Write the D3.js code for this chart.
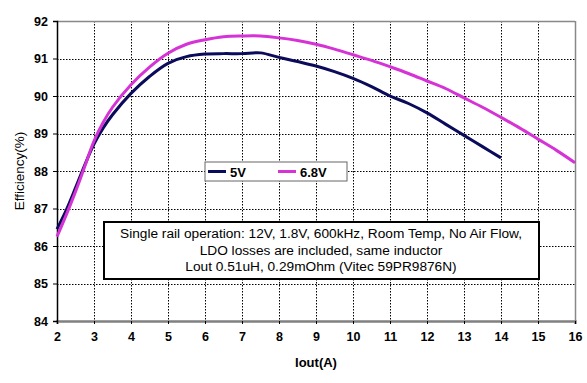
<!DOCTYPE html>
<html lang="en">
<head>
  <meta charset="UTF-8" />
  <title>Efficiency vs Iout</title>
  <script src="https://d3js.org/d3.v7.min.js"></script>
  <style>
    body {
      margin: 0;
      background: #fff;
      font-family: Arial, "Liberation Sans", sans-serif;
    }
    .tick-label {
      font-size: 12.5px;
      font-weight: bold;
      fill: #000;
    }
    .grid {
      stroke: #000;
      stroke-width: 1px;
      stroke-dasharray: 1.5 1.5;
    }
  </style>
</head>
<body>
  <svg width="587" height="383"></svg>
  <script>
    const iout5 = [2, 2.25, 2.5, 2.75, 3, 3.25, 3.5, 4, 4.5, 5, 5.5, 6, 6.5, 7, 7.5, 8, 8.5, 9, 9.5, 10, 10.5, 11, 11.5, 12, 12.5, 13, 13.5, 14];
    const eff5 = [86.45, 86.96, 87.55, 88.16, 88.72, 89.15, 89.5, 90.07, 90.52, 90.87, 91.05, 91.12, 91.13, 91.13, 91.15, 91.03, 90.92, 90.8, 90.65, 90.47, 90.25, 90.0, 89.8, 89.55, 89.25, 88.95, 88.65, 88.35];
    const iout68 = [2, 2.25, 2.5, 2.75, 3, 3.25, 3.5, 4, 4.5, 5, 5.5, 6, 6.5, 7, 7.5, 8, 8.5, 9, 9.5, 10, 10.5, 11, 11.5, 12, 12.5, 13, 13.5, 14, 14.5, 15, 15.5, 16];
    const eff68 = [86.25, 86.83, 87.45, 88.12, 88.8, 89.3, 89.7, 90.3, 90.77, 91.14, 91.38, 91.5, 91.58, 91.6, 91.6, 91.55, 91.48, 91.38, 91.25, 91.1, 90.95, 90.78, 90.6, 90.4, 90.2, 89.95, 89.7, 89.43, 89.15, 88.85, 88.55, 88.22];
    const xTicks = [2, 3, 4, 5, 6, 7, 8, 9, 10, 11, 12, 13, 14, 15, 16];
    const yTicks = [84, 85, 86, 87, 88, 89, 90, 91, 92];
    const seriesNames = ["5V", "6.8V"];
    const seriesColors = ["#0b0b5c", "#d633d6"];
    const noteLines = [
      "Single rail operation: 12V, 1.8V, 600kHz, Room Temp, No Air Flow,",
      "LDO losses are included, same inductor",
      "Lout 0.51uH, 0.29mOhm (Vitec 59PR9876N)"
    ];

    const svg = d3.select("svg");
    const plotL = 57, plotR = 575, plotT = 21, plotB = 321;

    const x = d3.scaleLinear().domain([2, 16]).range([plotL, plotR]);
    const y = d3.scaleLinear().domain([84, 92]).range([plotB, plotT]);

    // grid
    svg.append("g").selectAll("line")
      .data(xTicks.slice(1, -1))
      .join("line")
      .attr("class", "grid")
      .attr("x1", d => Math.round(x(d)) + 0.5).attr("x2", d => Math.round(x(d)) + 0.5)
      .attr("y1", plotT).attr("y2", plotB);

    svg.append("g").selectAll("line")
      .data(yTicks.slice(1, -1))
      .join("line")
      .attr("class", "grid")
      .attr("x1", plotL).attr("x2", plotR)
      .attr("y1", d => Math.round(y(d)) + 0.5).attr("y2", d => Math.round(y(d)) + 0.5);

    // frame
    svg.append("line").attr("x1", plotL).attr("x2", plotR).attr("y1", plotT + 0.5).attr("y2", plotT + 0.5)
      .attr("stroke", "#888").attr("stroke-width", 1.5);
    svg.append("line").attr("x1", plotR + 0.5).attr("x2", plotR + 0.5).attr("y1", plotT).attr("y2", plotB)
      .attr("stroke", "#888").attr("stroke-width", 1.5);

    // axes
    const xAxis = svg.append("g")
      .attr("transform", `translate(0,${plotB})`)
      .call(d3.axisBottom(x).tickValues(xTicks).tickSize(3).tickFormat(d3.format("d")));
    xAxis.select(".domain").attr("stroke", "#808080").attr("stroke-width", 2.5);
    xAxis.selectAll(".tick line").attr("stroke", "#000");
    xAxis.selectAll("text").attr("class", "tick-label").attr("dy", "1.15em")
      .style("font-family", "Arial, 'Liberation Sans', sans-serif");

    const yAxis = svg.append("g")
      .attr("transform", `translate(${plotL},0)`)
      .call(d3.axisLeft(y).tickValues(yTicks).tickSize(4).tickFormat(d3.format("d")));
    yAxis.select(".domain").attr("stroke", "#000").attr("stroke-width", 1.5);
    yAxis.selectAll("text").attr("class", "tick-label").attr("x", -9)
      .style("font-family", "Arial, 'Liberation Sans', sans-serif");

    // axis titles
    svg.append("text")
      .attr("x", 316).attr("y", 367)
      .attr("text-anchor", "middle")
      .style("font-size", "13px").style("font-weight", "bold")
      .text("Iout(A)");

    svg.append("text")
      .attr("transform", `translate(24,${(plotT + plotB) / 2}) rotate(-90)`)
      .attr("text-anchor", "middle")
      .style("font-size", "13.5px")
      .text("Efficiency(%)");

    // lines
    const line = d3.line()
      .x(d => x(d[0]))
      .y(d => y(d[1]))
      .curve(d3.curveCatmullRom.alpha(0.5));

    const series = [d3.zip(iout5, eff5), d3.zip(iout68, eff68)];
    series.forEach((s, i) => {
      svg.append("path")
        .datum(s)
        .attr("fill", "none")
        .attr("stroke", seriesColors[i])
        .attr("stroke-width", 3)
        .attr("d", line);
    });

    // legend
    const legend = svg.append("g").attr("transform", "translate(205,162)");
    legend.append("rect")
      .attr("width", 142).attr("height", 19)
      .attr("fill", "#fff").attr("stroke", "#666").attr("stroke-width", 1);
    const legendX = [3, 73];
    seriesNames.forEach((name, i) => {
      legend.append("line")
        .attr("x1", legendX[i]).attr("x2", legendX[i] + 18)
        .attr("y1", 9.5).attr("y2", 9.5)
        .attr("stroke", seriesColors[i]).attr("stroke-width", 3);
      legend.append("text")
        .attr("x", legendX[i] + 22).attr("y", 14.5)
        .style("font-size", "13px").style("font-weight", "bold")
        .text(name);
    });

    // note box
    const note = svg.append("g");
    note.append("rect")
      .attr("x", 104).attr("y", 222)
      .attr("width", 435).attr("height", 57)
      .attr("fill", "#fff").attr("stroke", "#000").attr("stroke-width", 2);
    note.selectAll("text")
      .data(noteLines)
      .join("text")
      .attr("x", 321)
      .attr("y", (d, i) => 238 + i * 16.5)
      .attr("text-anchor", "middle")
      .style("font-size", "13.7px")
      .text(d => d);
  </script>
</body>
</html>
